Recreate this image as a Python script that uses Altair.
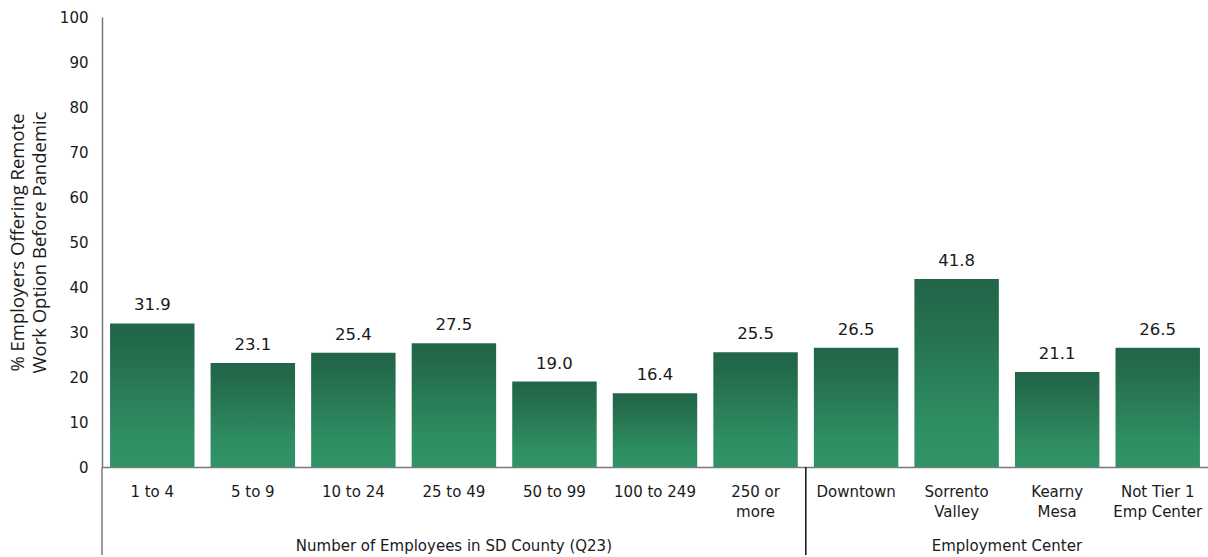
import altair as alt
import pandas as pd

categories = ["1 to 4", "5 to 9", "10 to 24", "25 to 49", "50 to 99", "100 to 249",
              "250 or|more", "Downtown", "Sorrento|Valley", "Kearny|Mesa", "Not Tier 1|Emp Center"]
values = [31.9, 23.1, 25.4, 27.5, 19.0, 16.4, 25.5, 26.5, 41.8, 21.1, 26.5]
groups = ["Number of Employees in SD County (Q23)", "Employment Center"]
group_anchor = ["25 to 49", "Kearny|Mesa"]
separators = ["1 to 4", "Downtown"]
sep_colors = ["#7a7a7a", "#111111"]

FONT = "DejaVu Sans"
TXT = "#1a1a1a"

df = pd.DataFrame({"cat": categories, "value": values, "label": [f"{v:.1f}" for v in values]})
gdf = pd.DataFrame({"cat": group_anchor, "group": groups})
sdf = pd.DataFrame({"cat": separators, "color": sep_colors})

xscale = alt.Scale(domain=categories, paddingInner=0, paddingOuter=0)
xaxis = alt.Axis(title=None, labelExpr="split(datum.value, '|')", labelAngle=0,
                 ticks=False, domain=True, domainColor="#7a7a7a", domainWidth=1.5,
                 labelFont=FONT, labelFontSize=15, labelColor=TXT, labelPadding=17,
                 labelLineHeight=20, labelBaseline="top", grid=False)

grad = alt.LinearGradient(gradient="linear",
                          stops=[alt.GradientStop(color="#22654a", offset=0),
                                 alt.GradientStop(color="#236a4b", offset=0.15),
                                 alt.GradientStop(color="#2e8d61", offset=0.75),
                                 alt.GradientStop(color="#309466", offset=1)],
                          x1=0, x2=0, y1=0, y2=1)

bars = alt.Chart(df).mark_bar(color=grad, width=alt.RelativeBandSize(0.84)).encode(
    x=alt.X("cat:N", scale=xscale, sort=categories, axis=xaxis),
    y=alt.Y("value:Q", scale=alt.Scale(domain=[0, 100], nice=False),
            axis=alt.Axis(values=list(range(0, 101, 10)),
                          title=["% Employers Offering Remote", "Work Option Before Pandemic"],
                          ticks=False, grid=False, domainColor="#7a7a7a", domainWidth=1.5,
                          labelFont=FONT, labelFontSize=15, labelColor=TXT, labelPadding=14,
                          titleFont="Open Sans", titleFontSize=18.5, titleFontWeight="normal",
                          titleColor=TXT, titlePadding=10, titleLineHeight=22)),
)

texts = alt.Chart(df).mark_text(font=FONT, fontSize=16.5, color=TXT, baseline="bottom", dy=-10).encode(
    x=alt.X("cat:N", scale=xscale, sort=categories),
    y="value:Q",
    text="label:N",
)

seps = alt.Chart(sdf).mark_rule(strokeWidth=1.5).encode(
    x=alt.X("cat:N", scale=xscale, sort=categories, bandPosition=0),
    y=alt.value(450), y2=alt.value(538),
    color=alt.Color("color:N", scale=None),
)

g1 = alt.Chart(gdf.iloc[[0]]).mark_text(font=FONT, fontSize=15, color=TXT, baseline="middle").encode(
    x=alt.X("cat:N", scale=xscale, sort=categories, bandPosition=0.5),
    y=alt.value(529), text="group:N")
g2 = alt.Chart(gdf.iloc[[1]]).mark_text(font=FONT, fontSize=15, color=TXT, baseline="middle").encode(
    x=alt.X("cat:N", scale=xscale, sort=categories, bandPosition=0),
    y=alt.value(529), text="group:N")

chart = alt.layer(bars, texts, seps, g1, g2).properties(
    width=1106, height=450,
    background="white",
    autosize=alt.AutoSizeParams(type="none"),
    padding={"left": 102, "top": 17, "right": 0, "bottom": 90},
).configure_view(stroke=None)

chart.save("out.html", embed_options={"renderer": "svg", "actions": False})
